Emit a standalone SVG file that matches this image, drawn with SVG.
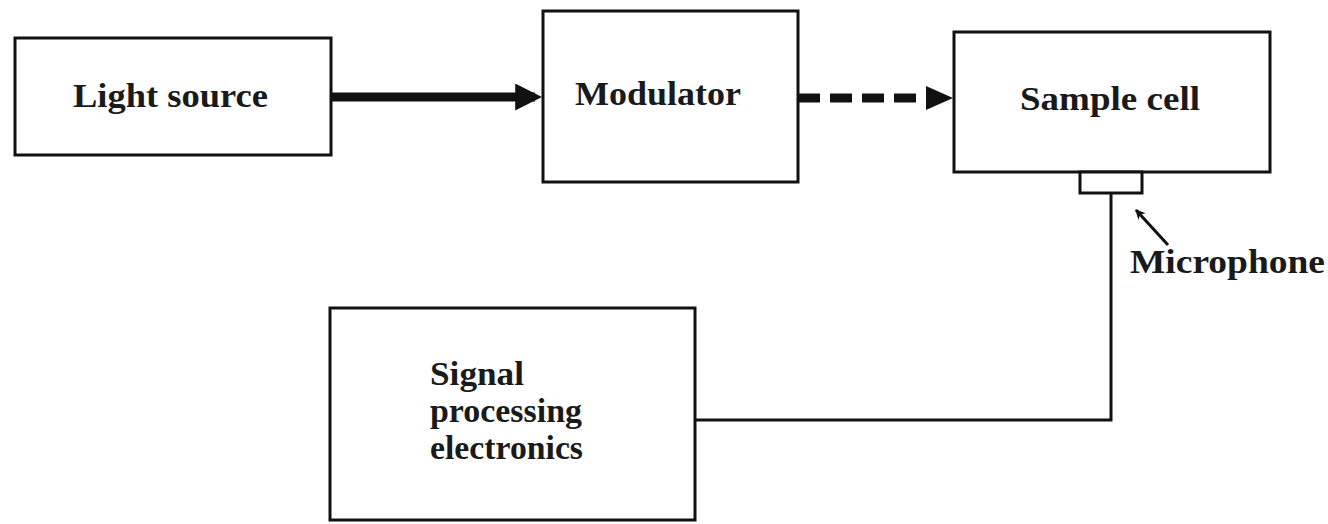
<svg xmlns="http://www.w3.org/2000/svg" width="1328" height="524" viewBox="0 0 1328 524">
<style>
.box{fill:#fff;stroke:#111;stroke-width:3}
.t{font-family:"Liberation Serif",serif;font-weight:bold;font-size:33px;fill:#1a1a1a}
.ln{fill:none;stroke:#111;stroke-width:3}
</style>
<defs>
<marker id="ah" markerWidth="3" markerHeight="3" refX="2.2" refY="1.5" orient="auto" markerUnits="strokeWidth">
<path d="M0,0 L3,1.5 L0,3 Z" fill="#111"/>
</marker>
<marker id="ah2" markerWidth="10" markerHeight="10" refX="9" refY="5" orient="auto" markerUnits="userSpaceOnUse">
<path d="M0,0 L10,5 L0,10 L3,5 Z" fill="#111"/>
</marker>
</defs>
<rect width="1328" height="524" fill="#fff"/>
<g id="light-source">
<rect class="box" x="15" y="38" width="316" height="117"/>
<text class="t" x="73" y="107" textLength="195" lengthAdjust="spacingAndGlyphs">Light source</text>
</g>
<g id="modulator">
<rect class="box" x="543" y="11" width="255" height="171"/>
<text class="t" x="575" y="105" textLength="166" lengthAdjust="spacingAndGlyphs">Modulator</text>
</g>
<g id="sample-cell">
<rect class="box" x="954" y="32" width="316" height="140"/>
<text class="t" x="1020" y="110" textLength="180" lengthAdjust="spacingAndGlyphs">Sample cell</text>
</g>
<g id="microphone">
<rect class="box" x="1080" y="172" width="62" height="21"/>
<text class="t" x="1130" y="273" textLength="195" lengthAdjust="spacingAndGlyphs">Microphone</text>
</g>
<g id="signal-processing">
<rect class="box" x="330" y="308" width="365" height="212"/>
<text class="t" x="430" y="385" textLength="94" lengthAdjust="spacingAndGlyphs">Signal</text>
<text class="t" x="430" y="422" textLength="152" lengthAdjust="spacingAndGlyphs">processing</text>
<text class="t" x="430" y="459" textLength="153" lengthAdjust="spacingAndGlyphs">electronics</text>
</g>
<g id="connectors">
<line x1="331" y1="97" x2="535" y2="97" stroke="#111" stroke-width="9" marker-end="url(#ah)"/>
<line x1="798" y1="98" x2="925" y2="98" stroke="#111" stroke-width="9" stroke-dasharray="22,10"/>
<path d="M926,86 L953,98 L926,110 Z" fill="#111"/>
<polyline class="ln" points="1111,193 1111,420 695,420"/>
<line x1="1168" y1="245" x2="1136" y2="210" stroke="#111" stroke-width="3" marker-end="url(#ah2)"/>
</g>
</svg>
